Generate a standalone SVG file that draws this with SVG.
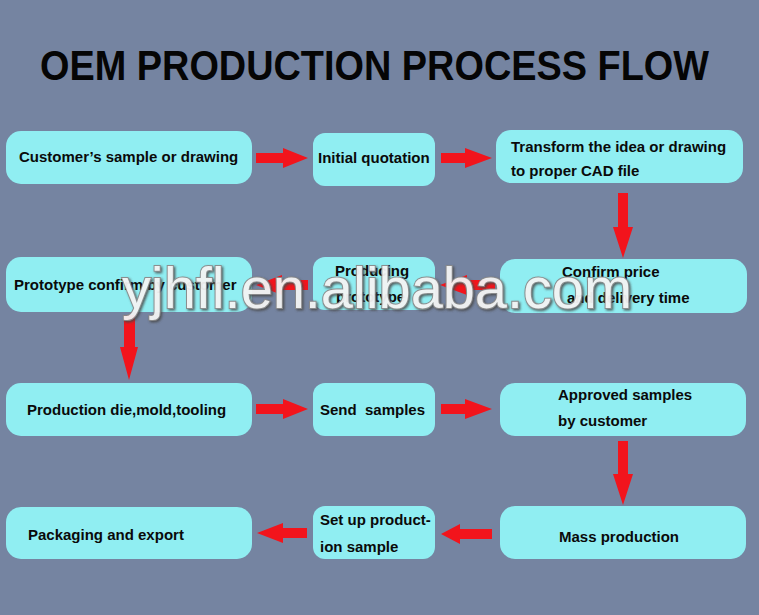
<svg xmlns="http://www.w3.org/2000/svg" width="759" height="615" viewBox="0 0 759 615">
<defs>
<filter id="bevel" x="-5%" y="-20%" width="110%" height="140%">
<feDropShadow dx="1.5" dy="1.5" stdDeviation="0.8" flood-color="#4a4a4a" flood-opacity="0.9"/>
</filter>
</defs>
<style>
.bg{fill:#7584a1}
.box{fill:#90eef2}
.t{font-family:"Liberation Sans",Arial,sans-serif;font-weight:bold;font-size:15px;fill:#0a0a0a}
.title{font-family:"Liberation Sans",Arial,sans-serif;font-weight:bold;font-size:42px;fill:#050505}
.arrow{fill:#f2141c}
.wm{font-family:"Liberation Sans",Arial,sans-serif;font-size:57px;fill:#f4f4f4;stroke:#8a8a8a;stroke-width:2;paint-order:stroke;opacity:0.95}
</style>
<rect class="bg" x="0" y="0" width="759" height="615"/>
<text class="title" x="40" y="80" textLength="669" lengthAdjust="spacingAndGlyphs">OEM PRODUCTION PROCESS FLOW</text>

<g id="n1"><rect class="box" x="6" y="131" width="246" height="53" rx="15"/><text class="t" x="19" y="162">Customer’s sample or drawing</text></g>
<g id="n2"><rect class="box" x="313" y="133" width="122" height="53" rx="12"/><text class="t" x="318" y="163">Initial quotation</text></g>
<g id="n3"><rect class="box" x="496" y="130" width="247" height="53" rx="15"/><text class="t" x="511" y="152">Transform the idea or drawing</text><text class="t" x="511" y="176">to proper CAD file</text></g>
<g id="n4"><rect class="box" x="500" y="259" width="247" height="54" rx="15"/><text class="t" x="562" y="277">Confirm price</text><text class="t" x="567" y="303">and delivery time</text></g>
<g id="n5"><rect class="box" x="313" y="257" width="122" height="53" rx="12"/><text class="t" x="335" y="276">Producing</text><text class="t" x="336" y="302">prototype</text></g>
<g id="n6"><rect class="box" x="6" y="257" width="246" height="55" rx="15"/><text class="t" x="14" y="290">Prototype confirm by customer</text></g>
<g id="n7"><rect class="box" x="6" y="383" width="246" height="53" rx="15"/><text class="t" x="27" y="415">Production die,mold,tooling</text></g>
<g id="n8"><rect class="box" x="313" y="383" width="122" height="53" rx="12"/><text class="t" x="320" y="415" xml:space="preserve">Send  samples</text></g>
<g id="n9"><rect class="box" x="500" y="383" width="246" height="53" rx="15"/><text class="t" x="558" y="400">Approved samples</text><text class="t" x="558" y="426">by customer</text></g>
<g id="n10"><rect class="box" x="500" y="506" width="246" height="53" rx="15"/><text class="t" x="559" y="542">Mass production</text></g>
<g id="n11"><rect class="box" x="313" y="506" width="122" height="53" rx="12"/><text class="t" x="320" y="525">Set up product-</text><text class="t" x="320" y="552">ion sample</text></g>
<g id="n12"><rect class="box" x="6" y="507" width="246" height="52" rx="15"/><text class="t" x="28" y="540">Packaging and export</text></g>

<g id="connectors">
<path class="arrow" d="M256,153 H283 V148 L308,158 L283,168 V163 H256 Z"/>
<path class="arrow" d="M441,153 H465 V148 L492,158 L465,168 V163 H441 Z"/>
<path class="arrow" d="M618,193 H628 V227 H633 L623,258 L613,227 H618 Z"/>
<path class="arrow" d="M495,280 H467 V275 L440,285 L467,295 V290 H495 Z"/>
<path class="arrow" d="M308,280 H282 V275 L256,285 L282,295 V290 H308 Z"/>
<path class="arrow" d="M124,315 H135 V347 H138 L129,380 L120,347 H124 Z"/>
<path class="arrow" d="M256,404 H283 V399 L308,409 L283,419 V414 H256 Z"/>
<path class="arrow" d="M441,404 H465 V399 L492,409 L465,419 V414 H441 Z"/>
<path class="arrow" d="M618,441 H628 V474 H633 L623,505 L613,474 H618 Z"/>
<path class="arrow" d="M492,529 H460 V524 L441,534 L460,544 V539 H492 Z"/>
<path class="arrow" d="M307,528 H283 V523 L257,533 L283,543 V538 H307 Z"/>
</g>

<text class="wm" x="122" y="308" textLength="510" lengthAdjust="spacingAndGlyphs" filter="url(#bevel)">yjhfl.en.alibaba.com</text>
</svg>
